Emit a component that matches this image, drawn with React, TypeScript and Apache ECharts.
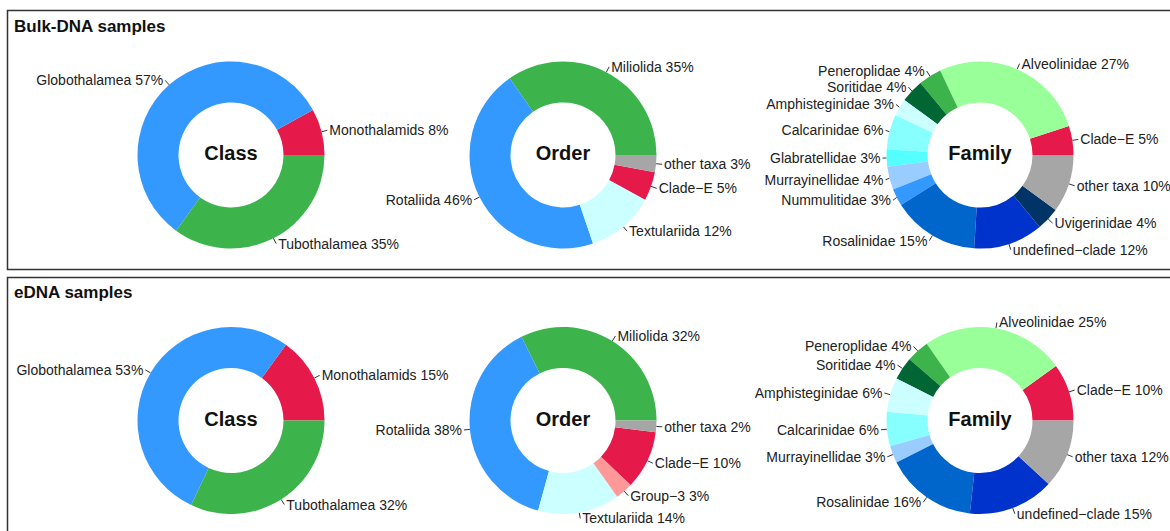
import React, { useEffect, useRef } from "react";
import * as echarts from "echarts";

const classNames = ["Monothalamids", "Globothalamea", "Tubothalamea"];
const classBulk = [8, 57, 35];
const classEdna = [15, 53, 32];

const orderNamesBulk = ["Miliolida", "Rotaliida", "Textulariida", "Clade−E", "other taxa"];
const orderBulk = [35, 46, 12, 5, 3];
const orderNamesEdna = ["Miliolida", "Rotaliida", "Textulariida", "Group−3", "Clade−E", "other taxa"];
const orderEdna = [32, 38, 14, 3, 10, 2];

const familyNamesBulk = [
  "Clade−E", "Alveolinidae", "Peneroplidae", "Soritidae", "Amphisteginidae", "Calcarinidae",
  "Glabratellidae", "Murrayinellidae", "Nummulitidae", "Rosalinidae", "undefined−clade",
  "Uvigerinidae", "other taxa",
];
const familyBulk = [5, 27, 4, 4, 3, 6, 3, 4, 3, 15, 12, 4, 10];
const familyNamesEdna = [
  "Clade−E", "Alveolinidae", "Peneroplidae", "Soritidae", "Amphisteginidae", "Calcarinidae",
  "Murrayinellidae", "Rosalinidae", "undefined−clade", "other taxa",
];
const familyEdna = [10, 25, 4, 4, 6, 6, 3, 16, 15, 12];

const panelTitles = ["Bulk-DNA samples", "eDNA samples"];
const ringTitles = ["Class", "Order", "Family"];

const colors: Record<string, string> = {
  Monothalamids: "#E6194B",
  Globothalamea: "#3399FF",
  Tubothalamea: "#3CB44B",
  Miliolida: "#3CB44B",
  Rotaliida: "#3399FF",
  Textulariida: "#CCFFFF",
  "Group−3": "#FF9999",
  "Clade−E": "#E6194B",
  "other taxa": "#A6A6A6",
  Alveolinidae: "#99FF99",
  Peneroplidae: "#3CB44B",
  Soritidae: "#006633",
  Amphisteginidae: "#CCFFFF",
  Calcarinidae: "#88FFFF",
  Glabratellidae: "#55FFFF",
  Murrayinellidae: "#99CCFF",
  Nummulitidae: "#3399FF",
  Rosalinidae: "#0066CC",
  "undefined−clade": "#0033CC",
  Uvigerinidae: "#003366",
};

const FONT = "'Liberation Sans', Arial, Helvetica, sans-serif";
const colX = [231, 563, 980];
const rowY = [155, 420.5];

function makePie(names: string[], values: number[], cx: number, cy: number) {
  return {
    type: "pie",
    center: [cx, cy],
    radius: [52.5, 93.5],
    startAngle: 0,
    clockwise: false,
    silent: true,
    avoidLabelOverlap: true,
    itemStyle: { borderWidth: 0 },
    label: {
      show: true,
      position: "outside",
      formatter: "{b} {c}%",
      fontSize: 14,
      fontFamily: FONT,
      color: "#222",
      distanceToLabelLine: 2,
      overflow: "none",
    },
    labelLine: {
      show: true,
      length: 6,
      length2: 0,
      lineStyle: { color: "#333", width: 1 },
    },
    emphasis: { disabled: true },
    data: names.map((n, i) => ({ name: n, value: values[i], itemStyle: { color: colors[n] } })),
  };
}

export default function App() {
  const ref = useRef<HTMLDivElement>(null);
  useEffect(() => {
    document.body.style.margin = "0";
    const chart = echarts.init(ref.current!, null, { renderer: "svg" });
    const series = [
      makePie(classNames, classBulk, colX[0], rowY[0]),
      makePie(orderNamesBulk, orderBulk, colX[1], rowY[0]),
      makePie(familyNamesBulk, familyBulk, colX[2], rowY[0]),
      makePie(classNames, classEdna, colX[0], rowY[1]),
      makePie(orderNamesEdna, orderEdna, colX[1], rowY[1]),
      makePie(familyNamesEdna, familyEdna, colX[2], rowY[1]),
    ];
    const graphic: any[] = [
      {
        type: "rect",
        shape: { x: 7.5, y: 10.5, width: 1200, height: 259 },
        style: { fill: "none", stroke: "#333", lineWidth: 1.5 },
        silent: true,
      },
      {
        type: "rect",
        shape: { x: 7.5, y: 277.5, width: 1200, height: 300 },
        style: { fill: "none", stroke: "#333", lineWidth: 1.5 },
        silent: true,
      },
      {
        type: "text",
        x: 14,
        y: 26,
        style: { text: panelTitles[0], font: `bold 17px ${FONT}`, fill: "#111", textVerticalAlign: "middle" },
      },
      {
        type: "text",
        x: 14,
        y: 292,
        style: { text: panelTitles[1], font: `bold 17px ${FONT}`, fill: "#111", textVerticalAlign: "middle" },
      },
    ];
    rowY.forEach((y) => {
      colX.forEach((x, i) => {
        graphic.push({
          type: "text",
          x,
          y: y - 2,
          z: 10,
          style: {
            text: ringTitles[i],
            font: `bold 20px ${FONT}`,
            fill: "#111",
            textAlign: "center",
            textVerticalAlign: "middle",
          },
        });
      });
    });
    chart.setOption({
      animation: false,
      backgroundColor: "#fff",
      series,
      graphic,
    });
    return () => chart.dispose();
  }, []);
  return <div ref={ref} style={{ width: 1170, height: 531 }} />;
}
